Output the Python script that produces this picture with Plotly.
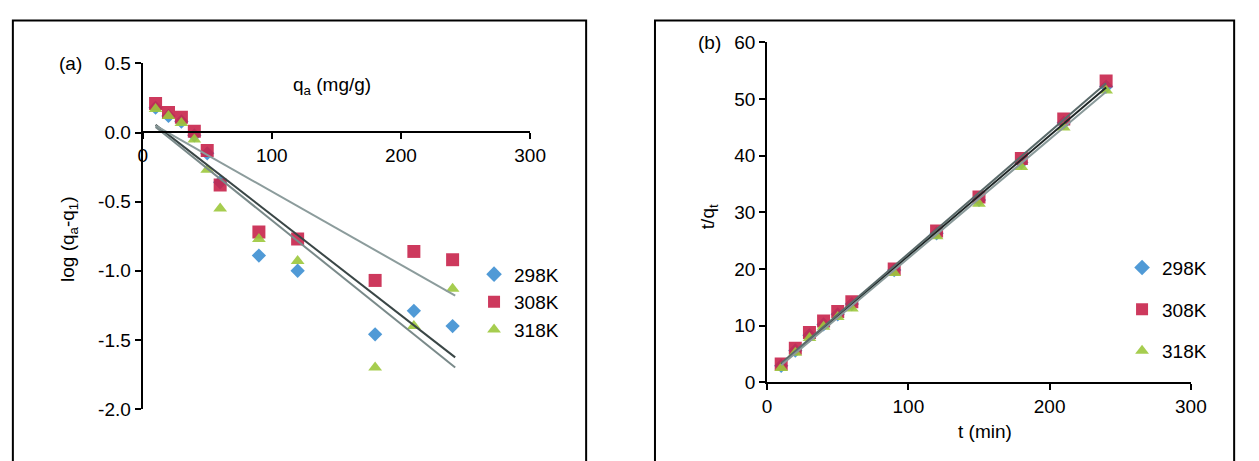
import plotly.graph_objects as go

# ---------------- data ----------------
series = ["298K", "308K", "318K"]
colors = ["#3d8fd1", "#c8234b", "#9cc83c"]
symbols = ["diamond", "square", "triangle-up"]
sizes = [11, 13, 12]

# (a) pseudo-first-order plot
t_a = [10, 20, 30, 40, 50, 60, 90, 120, 180, 210, 240]
loga_298 = [0.18, 0.12, 0.08, -0.02, -0.15, -0.36, -0.89, -1.00, -1.46, -1.29, -1.40]
loga_308 = [0.21, 0.145, 0.11, 0.01, -0.13, -0.38, -0.72, -0.77, -1.07, -0.86, -0.92]
loga_318 = [0.17, 0.12, 0.07, -0.05, -0.27, -0.55, -0.77, -0.93, -1.70, -1.40, -1.13]
fitA_slope = [-0.00725, -0.00530, -0.00750]
fitA_intercept = [0.128, 0.103, 0.115]
fitA_colors = ["#3a4646", "#8c9c9c", "#7a8a8a"]
fitA_x = [10, 242]

# (b) pseudo-second-order plot
t_b = [10, 20, 30, 40, 50, 60, 90, 120, 150, 180, 210, 240]
tq_298 = [2.9, 5.6, 8.3, 10.2, 12.0, 13.8, 19.8, 26.3, 32.2, 38.8, 45.8, 52.2]
tq_308 = [3.2, 6.0, 8.8, 10.8, 12.5, 14.2, 20.0, 26.7, 32.7, 39.5, 46.5, 53.2]
tq_318 = [2.5, 5.2, 7.8, 9.8, 11.5, 13.0, 19.3, 25.8, 31.5, 38.0, 45.0, 51.5]
fitB_slope = [0.2125, 0.2150, 0.2100]
fitB_intercept = [1.05, 1.20, 0.90]
fitB_colors = ["#1e2626", "#5a6a6a", "#8a9a9a"]
fitB_x = [10, 240]

xticks = [0, 100, 200, 300]
yticks_a = [-2.0, -1.5, -1.0, -0.5, 0.0, 0.5]
yticktext_a = ["-2.0", "-1.5", "-1.0", "-0.5", "0.0", "0.5"]
yticks_b = [0, 10, 20, 30, 40, 50, 60]

W, H = 1259, 461
FONT = "Liberation Sans, Arial, sans-serif"


def px(x):
    return x / W


def py(y):
    return 1 - y / H


fig = go.Figure()

# panel (a) markers
for name, ys, c, s, sz in zip(series, [loga_298, loga_308, loga_318], colors, symbols, sizes):
    fig.add_trace(go.Scatter(x=t_a, y=ys, mode="markers", name=name,
                             marker=dict(color=c, symbol=s, size=sz, opacity=0.9),
                             xaxis="x", yaxis="y", legend="legend", legendgroup="a" + name))
# panel (a) fit lines
for m, b, c in zip(fitA_slope, fitA_intercept, fitA_colors):
    fig.add_trace(go.Scatter(x=fitA_x, y=[b + m * x for x in fitA_x], mode="lines",
                             line=dict(color=c, width=2), showlegend=False,
                             xaxis="x", yaxis="y"))

# panel (b) markers
for name, ys, c, s, sz in zip(series, [tq_298, tq_308, tq_318], colors, symbols, sizes):
    fig.add_trace(go.Scatter(x=t_b, y=ys, mode="markers", name=name,
                             marker=dict(color=c, symbol=s, size=sz, opacity=0.9),
                             xaxis="x2", yaxis="y2", legend="legend2", legendgroup="b" + name))
# panel (b) fit lines
for m, b, c in zip(fitB_slope, fitB_intercept, fitB_colors):
    fig.add_trace(go.Scatter(x=fitB_x, y=[b + m * x for x in fitB_x], mode="lines",
                             line=dict(color=c, width=2), showlegend=False,
                             xaxis="x2", yaxis="y2"))

axis_common = dict(showline=True, linecolor="black", linewidth=2, ticks="outside",
                   ticklen=6, tickwidth=2, tickcolor="black", showgrid=False,
                   zeroline=False, tickfont=dict(family=FONT, size=19, color="black"))

fig.update_layout(
    width=W, height=H, autosize=False,
    margin=dict(l=0, r=0, t=0, b=0),
    paper_bgcolor="white", plot_bgcolor="rgba(0,0,0,0)",
    font=dict(family=FONT, size=19, color="black"),
    xaxis=dict(domain=[px(140), px(534)], range=[0, 300], anchor="free",
               position=py(128), tickvals=xticks, **axis_common),
    yaxis=dict(domain=[py(418), py(56)], range=[-2.0, 0.5], anchor="x",
               tickvals=yticks_a, ticktext=yticktext_a, **axis_common),
    xaxis2=dict(domain=[px(775), px(1206)], range=[0, 300], anchor="y2",
                tickvals=xticks, **axis_common),
    yaxis2=dict(domain=[py(390), py(34)], range=[0, 60], anchor="x2",
                tickvals=yticks_b, **axis_common),
    legend=dict(x=px(477), y=py(257), xanchor="left", yanchor="top",
                bgcolor="rgba(0,0,0,0)", font=dict(family=FONT, size=19),
                tracegroupgap=0, itemsizing="constant"),
    legend2=dict(x=px(1136), y=py(250), xanchor="left", yanchor="top",
                 bgcolor="rgba(0,0,0,0)", font=dict(family=FONT, size=19),
                 tracegroupgap=14, itemsizing="constant"),
    showlegend=True,
)

ann = dict(xref="paper", yref="paper", showarrow=False, xanchor="center", yanchor="middle",
           font=dict(family=FONT, size=19, color="black"))
fig.add_annotation(text="(a)", x=px(67), y=py(56), **ann)
fig.add_annotation(text="q<sub>a</sub> (mg/g)", x=px(333), y=py(80), **ann)
fig.add_annotation(text="log (q<sub>a</sub>-q<sub>1</sub>)", x=px(65), y=py(240), textangle=-90, **ann)
fig.add_annotation(text="(b)", x=px(716), y=py(34), **ann)
fig.add_annotation(text="t/q<sub>t</sub>", x=px(716), y=py(217), textangle=-90, **ann)
fig.add_annotation(text="t (min)", x=px(997), y=py(442), **ann)

# panel frames (bottom edge is cut off in the reference)
for x0, x1 in [(8, 591), (661, 1250)]:
    fig.add_shape(type="path", xref="paper", yref="paper",
                  path=f"M {px(x0)},-0.1 L {px(x0)},{py(11)} L {px(x1)},{py(11)} L {px(x1)},-0.1",
                  line=dict(color="black", width=2))

fig.write_html("out.html", config={"displayModeBar": False},
               post_script="document.body.style.margin='0';document.body.style.overflow='hidden';")
